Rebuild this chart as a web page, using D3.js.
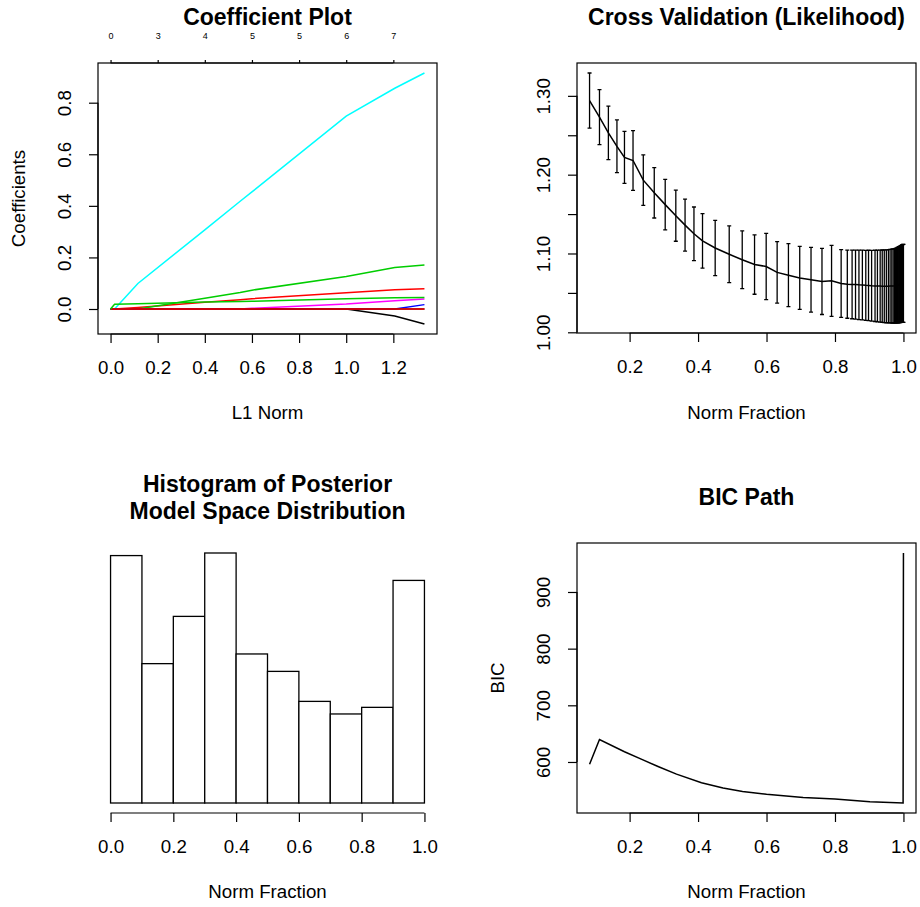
<!DOCTYPE html>
<html>
<head>
<meta charset="utf-8">
<script src="https://cdn.jsdelivr.net/npm/d3@7/dist/d3.min.js"></script>
<style>
  html, body { margin: 0; padding: 0; background: #fff; }
  svg { display: block; font-family: "Liberation Sans", Arial, Helvetica, sans-serif; }
</style>
</head>
<body>
<script>
// ---------- Coefficient path (lasso) ----------
const l1Norm = [0, 0.017, 0.116, 0.40, 0.55, 0.60, 1.0, 1.206, 1.332];
const pathColors = ["#000000", "#FF0000", "#00CD00", "#0000FF", "#00FFFF", "#FF00FF", "#000000", "#FF0000", "#00CD00"];
const coefV1 = [0, 0, 0, 0, 0, 0, 0, -0.027, -0.058];
const coefV2 = [0, 0, 0.006, 0.026, 0.036, 0.040, 0.063, 0.075, 0.079];
const coefV3 = [0, 0, 0, 0.042, 0.064, 0.073, 0.126, 0.161, 0.171];
const coefV4 = [0, 0, 0, 0, 0, 0, 0, 0, 0.017];
const coefV5 = [0, 0, 0.099, 0.307, 0.418, 0.454, 0.748, 0.856, 0.915];
const coefV6 = [0, 0, 0, 0, 0, 0.003, 0.019, 0.032, 0.039];
const coefV7 = [0, 0, 0, 0, 0, 0, 0, 0, 0];
const coefV8 = [0, 0, 0, 0, 0, 0, 0, 0, 0];
const coefV9 = [0, 0.018, 0.020, 0.027, 0.029, 0.030, 0.040, 0.044, 0.045];
const coefSeries = [coefV1, coefV2, coefV3, coefV4, coefV5, coefV6, coefV7, coefV8, coefV9];
const l1Ticks = [0, 0.2, 0.4, 0.6, 0.8, 1.0, 1.2];
const dfTickLabels = ["0", "3", "4", "5", "5", "6", "7"];
const coefTicks = [0, 0.2, 0.4, 0.6, 0.8];

// ---------- Cross validation ----------
const cvFrac = [0.083, 0.112, 0.138, 0.163, 0.185, 0.210, 0.240, 0.272, 0.304, 0.335,
  0.362, 0.388, 0.413, 0.450, 0.491, 0.529, 0.565, 0.599, 0.631, 0.664,
  0.697, 0.730, 0.762, 0.790, 0.818, 0.836, 0.850, 0.860, 0.870, 0.880,
  0.890, 0.898, 0.907, 0.917, 0.924, 0.932, 0.938, 0.944, 0.950, 0.956,
  0.961, 0.966, 0.970, 0.974, 0.977, 0.980, 0.983, 0.985, 0.987, 0.989,
  0.991, 0.993, 0.994, 0.996, 0.997, 0.999, 1.000];
const cvMean = [1.294, 1.273, 1.253, 1.236, 1.222, 1.218, 1.193, 1.177, 1.162, 1.148,
  1.136, 1.125, 1.116, 1.107, 1.099, 1.092, 1.086, 1.0835, 1.076, 1.0725,
  1.069, 1.0667, 1.0646, 1.0653, 1.0619, 1.061, 1.0607, 1.0605, 1.0602, 1.0600,
  1.0596, 1.0594, 1.0591, 1.0589, 1.0588, 1.0586, 1.0585, 1.0584, 1.0584, 1.0585,
  1.0586, 1.0587, 1.0588, 1.0590, 1.0592, 1.0595, 1.0598, 1.0601, 1.0604, 1.0607,
  1.0610, 1.0613, 1.0615, 1.0617, 1.0619, 1.0621, 1.0621];
const cvSe = [0.035, 0.035, 0.034, 0.0335, 0.033, 0.038, 0.032, 0.032, 0.032, 0.0325,
  0.033, 0.034, 0.0345, 0.035, 0.036, 0.0366, 0.0377, 0.042, 0.039, 0.040,
  0.040, 0.041, 0.042, 0.045, 0.043, 0.0432, 0.0435, 0.0437, 0.0440, 0.0443,
  0.0444, 0.0447, 0.0449, 0.0452, 0.0455, 0.0457, 0.0459, 0.0461, 0.0463, 0.0465,
  0.0467, 0.0469, 0.0470, 0.0472, 0.0474, 0.0476, 0.0478, 0.0480, 0.0482, 0.0484,
  0.0486, 0.0488, 0.0489, 0.0491, 0.0492, 0.0494, 0.0494];
const fracTicks = [0.2, 0.4, 0.6, 0.8, 1.0];
const cvTicks = [1.00, 1.05, 1.10, 1.15, 1.20, 1.25, 1.30];
const cvTickLabels = ["1.00", "", "1.10", "", "1.20", "", "1.30"];

// ---------- Posterior model space histogram ----------
const histEdges = [0, 0.1, 0.2, 0.3, 0.4, 0.5, 0.6, 0.7, 0.8, 0.9, 1.0];
const histDensity = [1.534, 0.864, 1.157, 1.550, 0.924, 0.816, 0.630, 0.552, 0.593, 1.380];
const histTicks = [0, 0.2, 0.4, 0.6, 0.8, 1.0];

// ---------- BIC path ----------
const bicFrac = [0.083, 0.112, 0.185, 0.234, 0.283, 0.337, 0.410, 0.473, 0.530, 0.600, 0.707, 0.800, 0.902, 0.999, 1.000];
const bicValue = [596, 639.5, 618, 605, 592, 578.5, 563.5, 554, 548, 543, 537.5, 534.5, 530, 527.6, 968.8];
const bicTicks = [600, 700, 800, 900];

// ---------- helpers ----------
const W = 920, H = 907;
const svg = d3.select("body").append("svg").attr("width", W).attr("height", H);
const FS = 18.7, FS_MAIN = 23;

// R-style range with 4% padding on each side
function padded(lo, hi) { const d = (hi - lo) * 0.04; return [lo - d, hi + d]; }
const fmt1 = d3.format(".1f");

function drawBox(r) {
  svg.append("rect").attr("x", r.x0).attr("y", r.y0)
    .attr("width", r.x1 - r.x0).attr("height", r.y1 - r.y0)
    .attr("fill", "none").attr("stroke", "#000").attr("stroke-width", 1.2);
}

function bottomAxis(scale, ticks, labels, yPos) {
  const g = svg.append("g").attr("transform", `translate(0,${yPos})`)
    .call(d3.axisBottom(scale).tickValues(ticks).tickSize(9).tickSizeOuter(0)
      .tickFormat((d, i) => labels[i]));
  g.select(".domain").attr("d", `M${scale(ticks[0])},0H${scale(ticks[ticks.length - 1])}`);
  g.selectAll("line, path").attr("stroke", "#000").attr("stroke-width", 1.2);
  g.selectAll("text").attr("y", 39.5).attr("dy", null)
    .attr("font-size", FS).attr("fill", "#000");
  g.attr("font-family", null).attr("font-size", null);
  return g;
}

function leftAxis(scale, ticks, labels, xPos) {
  const g = svg.append("g").attr("transform", `translate(${xPos},0)`)
    .call(d3.axisLeft(scale).tickValues(ticks).tickSize(9).tickSizeOuter(0)
      .tickFormat((d, i) => labels[i]));
  g.select(".domain").attr("d", `M0,${scale(ticks[0])}V${scale(ticks[ticks.length - 1])}`);
  g.selectAll("line, path").attr("stroke", "#000").attr("stroke-width", 1.2);
  g.selectAll("text").attr("x", null).attr("dy", null)
    .attr("text-anchor", "middle").attr("transform", "translate(-27.5,0) rotate(-90)")
    .attr("font-size", FS).attr("fill", "#000");
  g.attr("font-family", null).attr("font-size", null);
  return g;
}

function title(lines, cx, baseline) {
  lines.forEach((t, i) => {
    svg.append("text").attr("x", cx).attr("y", baseline + i * 27)
      .attr("text-anchor", "middle").attr("font-weight", "bold")
      .attr("font-size", FS_MAIN).text(t);
  });
}
function xLabel(t, cx, baseline) {
  svg.append("text").attr("x", cx).attr("y", baseline).attr("text-anchor", "middle")
    .attr("font-size", FS).text(t);
}
function yLabel(t, cy, bx) {
  svg.append("text").attr("transform", `translate(${bx},${cy}) rotate(-90)`)
    .attr("text-anchor", "middle").attr("font-size", FS).text(t);
}

// ---------- panel 1: coefficient plot ----------
{
  const r = { x0: 98, x1: 437, y0: 63, y1: 334 };
  const allC = coefSeries.flat();
  const x = d3.scaleLinear().domain(padded(0, d3.max(l1Norm))).range([r.x0, r.x1]);
  const y = d3.scaleLinear().domain(padded(d3.min(allC), d3.max(allC))).range([r.y1, r.y0]);
  const line = d3.line().x((d, i) => x(l1Norm[i])).y(d => y(d));
  coefSeries.forEach((s, k) => {
    svg.append("path").datum(s).attr("d", line).attr("fill", "none")
      .attr("stroke", pathColors[k]).attr("stroke-width", 1.5);
  });
  drawBox(r);
  bottomAxis(x, l1Ticks, l1Ticks.map(fmt1), r.y1);
  leftAxis(y, coefTicks, coefTicks.map(fmt1), r.x0);
  // degrees of freedom along the top
  const gt = svg.append("g").attr("transform", `translate(0,${r.y0})`)
    .call(d3.axisTop(x).tickValues(l1Ticks).tickSize(3).tickSizeOuter(0)
      .tickFormat((d, i) => dfTickLabels[i]));
  gt.select(".domain").attr("d", `M${x(l1Ticks[0])},0H${x(l1Ticks[l1Ticks.length - 1])}`);
  gt.selectAll("line, path").attr("stroke", "#000").attr("stroke-width", 1.2);
  gt.selectAll("text").attr("y", -24.5).attr("dy", null).attr("font-size", 9).attr("fill", "#000");
  gt.attr("font-family", null).attr("font-size", null);
  title(["Coefficient Plot"], (r.x0 + r.x1) / 2, 25);
  xLabel("L1 Norm", (r.x0 + r.x1) / 2, 418.5);
  yLabel("Coefficients", (r.y0 + r.y1) / 2, 24.5);
}

// ---------- panel 2: cross validation ----------
{
  const r = { x0: 577, x1: 916, y0: 63, y1: 333 };
  const lo = cvMean.map((m, i) => m - cvSe[i]);
  const hi = cvMean.map((m, i) => m + cvSe[i]);
  const x = d3.scaleLinear().domain(padded(d3.min(cvFrac), d3.max(cvFrac))).range([r.x0, r.x1]);
  const y = d3.scaleLinear().domain(padded(d3.min(lo), d3.max(hi))).range([r.y1, r.y0]);
  svg.append("path").datum(cvMean)
    .attr("d", d3.line().x((d, i) => x(cvFrac[i])).y(d => y(d)))
    .attr("fill", "none").attr("stroke", "#000").attr("stroke-width", 1.5);
  const bars = svg.append("g").attr("stroke", "#000").attr("stroke-width", 1.3).attr("fill", "none");
  cvFrac.forEach((f, i) => {
    const cx = x(f);
    bars.append("path").attr("d",
      `M${cx},${y(lo[i])}V${y(hi[i])}` +
      `M${cx - 2},${y(hi[i])}H${cx + 2}` +
      `M${cx - 2},${y(lo[i])}H${cx + 2}`);
  });
  drawBox(r);
  bottomAxis(x, fracTicks, fracTicks.map(fmt1), r.y1);
  leftAxis(y, cvTicks, cvTickLabels, r.x0);
  title(["Cross Validation (Likelihood)"], (r.x0 + r.x1) / 2, 25);
  xLabel("Norm Fraction", (r.x0 + r.x1) / 2, 418.5);
}

// ---------- panel 3: histogram ----------
{
  const r = { x0: 98, x1: 437, y0: 543, y1: 813 };
  const x = d3.scaleLinear().domain(padded(histEdges[0], histEdges[histEdges.length - 1])).range([r.x0, r.x1]);
  const y = d3.scaleLinear().domain(padded(0, d3.max(histDensity))).range([r.y1, r.y0]);
  svg.append("g").selectAll("rect").data(histDensity).join("rect")
    .attr("x", (d, i) => x(histEdges[i]))
    .attr("width", (d, i) => x(histEdges[i + 1]) - x(histEdges[i]))
    .attr("y", d => y(d)).attr("height", d => y(0) - y(d))
    .attr("fill", "#fff").attr("stroke", "#000").attr("stroke-width", 1.3);
  bottomAxis(x, histTicks, histTicks.map(fmt1), r.y1);
  title(["Histogram of Posterior", "Model Space Distribution"], (r.x0 + r.x1) / 2, 492);
  xLabel("Norm Fraction", (r.x0 + r.x1) / 2, 898);
}

// ---------- panel 4: BIC path ----------
{
  const r = { x0: 577, x1: 916, y0: 543, y1: 813 };
  const x = d3.scaleLinear().domain(padded(d3.min(bicFrac), d3.max(bicFrac))).range([r.x0, r.x1]);
  const y = d3.scaleLinear().domain(padded(d3.min(bicValue), d3.max(bicValue))).range([r.y1, r.y0]);
  svg.append("path").datum(bicValue)
    .attr("d", d3.line().x((d, i) => x(bicFrac[i])).y(d => y(d)))
    .attr("fill", "none").attr("stroke", "#000").attr("stroke-width", 1.5);
  drawBox(r);
  bottomAxis(x, fracTicks, fracTicks.map(fmt1), r.y1);
  leftAxis(y, bicTicks, bicTicks.map(String), r.x0);
  title(["BIC Path"], (r.x0 + r.x1) / 2, 505);
  xLabel("Norm Fraction", (r.x0 + r.x1) / 2, 898);
  yLabel("BIC", (r.y0 + r.y1) / 2, 503.5);
}
</script>
</body>
</html>
